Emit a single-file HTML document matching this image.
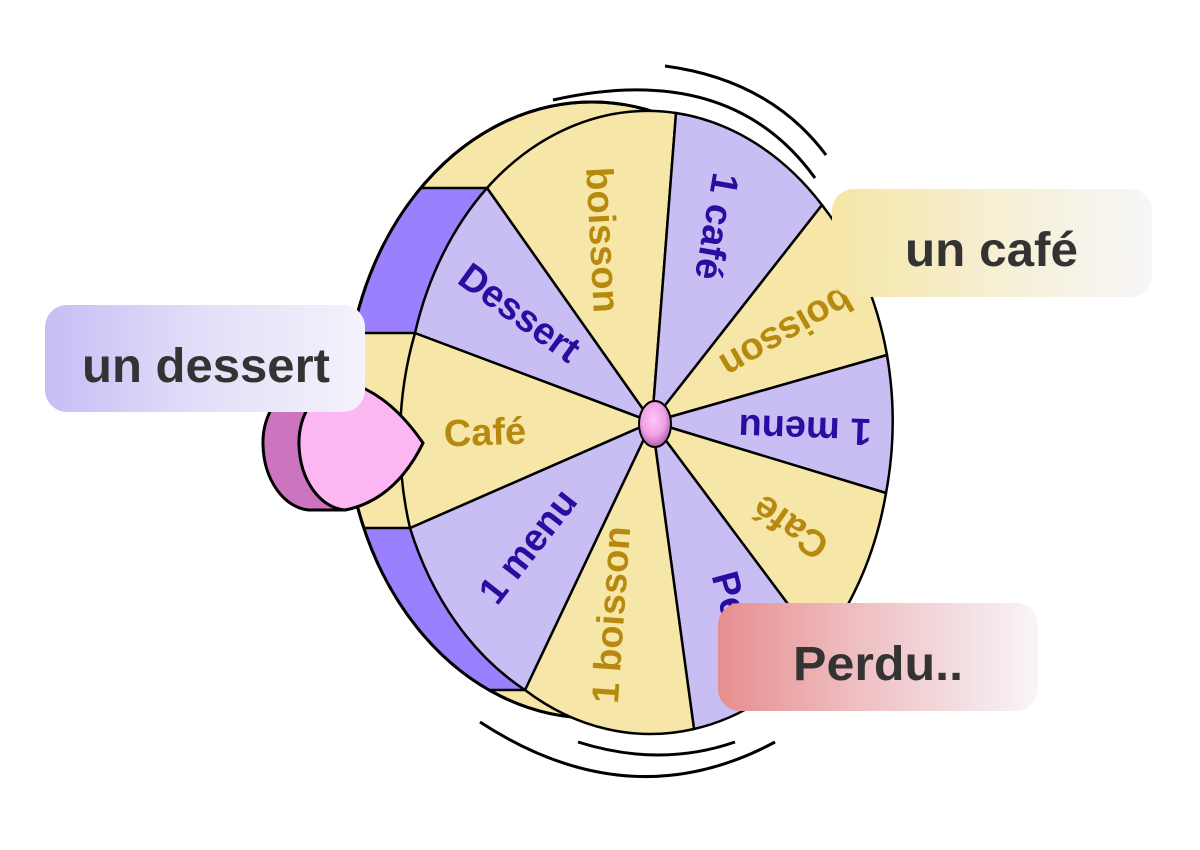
<!DOCTYPE html>
<html><head><meta charset="utf-8"><style>
html,body{margin:0;padding:0;background:#fff;width:1200px;height:850px;overflow:hidden}
svg{display:block}
</style></head><body>
<svg width="1200" height="850" viewBox="0 0 1200 850" xmlns="http://www.w3.org/2000/svg">
<defs>
<clipPath id="back"><ellipse cx="592" cy="410" rx="247" ry="308"/></clipPath>
<radialGradient id="hub" cx="45%" cy="40%" r="60%"><stop offset="0" stop-color="#fbc8f3"/><stop offset="0.6" stop-color="#f0a0e6"/><stop offset="1" stop-color="#b060a8"/></radialGradient>
<linearGradient id="g1" x1="0" x2="1"><stop offset="0" stop-color="#c6bdf5"/><stop offset="0.5" stop-color="#e4dff8"/><stop offset="1" stop-color="#f4f2fb"/></linearGradient>
<linearGradient id="g2" x1="0" x2="1"><stop offset="0" stop-color="#f5e6a6"/><stop offset="0.5" stop-color="#f6efd2"/><stop offset="1" stop-color="#f7f6f8"/></linearGradient>
<linearGradient id="g3" x1="0" x2="1"><stop offset="0" stop-color="#e58e8e"/><stop offset="0.45" stop-color="#efc0c3"/><stop offset="1" stop-color="#f7f5f9"/></linearGradient>
</defs>
<g fill="none" stroke="#000" stroke-width="3">
<path d="M665,66 Q770,80 826,155"/>
<path d="M553,100 Q730,60 815,178"/>
<path d="M480,722 Q630,820 775,742"/>
<path d="M578,742 Q660,768 735,742"/>
</g>
<ellipse cx="592" cy="410" rx="247" ry="308" fill="#f6e7a9" stroke="#000" stroke-width="3"/>
<g clip-path="url(#back)">
<rect x="330" y="188" width="160" height="145" fill="#9b80fd"/>
<rect x="330" y="528" width="200" height="162" fill="#9b80fd"/>
</g>
<g stroke="#000" stroke-width="2.5">
<line x1="421" y1="188" x2="490" y2="188"/>
<line x1="353" y1="333" x2="418" y2="333"/>
<line x1="364" y1="528" x2="412" y2="528"/>
<line x1="489" y1="690" x2="528" y2="690"/>
</g>
<ellipse cx="592" cy="410" rx="247" ry="308" fill="none" stroke="#000" stroke-width="3"/>
<g stroke="#000" stroke-width="2.5" stroke-linejoin="round">
<path d="M652,422 L487,188 A244 310 0 0 1 676,113Z" fill="#f6e7a9"/>
<path d="M652,422 L676,113 A244 310 0 0 1 822,205Z" fill="#c8bef4"/>
<path d="M652,422 L822,205 A244 310 0 0 1 887,355Z" fill="#f6e7a9"/>
<path d="M652,422 L887,355 A244 310 0 0 1 886,493Z" fill="#c8bef4"/>
<path d="M652,422 L886,493 A244 310 0 0 1 820,647Z" fill="#f6e7a9"/>
<path d="M652,422 L820,647 A244 310 0 0 1 694,729Z" fill="#c8bef4"/>
<path d="M652,422 L694,729 A244 310 0 0 1 525,690Z" fill="#f6e7a9"/>
<path d="M652,422 L525,690 A244 310 0 0 1 410,528Z" fill="#c8bef4"/>
<path d="M652,422 L410,528 A244 310 0 0 1 415,333Z" fill="#f6e7a9"/>
<path d="M652,422 L415,333 A244 310 0 0 1 487,188Z" fill="#c8bef4"/>
</g>
<g font-family="Liberation Sans, sans-serif" font-weight="bold" font-size="38" text-anchor="middle" dominant-baseline="middle">
<text transform="translate(600,240) rotate(87)" fill="#b8890f">boisson</text>
<text transform="translate(714,226) rotate(100)" fill="#2b0ca0">1 café</text>
<text transform="translate(785,330) rotate(150)" fill="#b8890f">boisson</text>
<text transform="translate(805,427) rotate(182)" fill="#2b0ca0">1 menu</text>
<text transform="translate(792,525) rotate(215)" fill="#b8890f">Café</text>
<text transform="translate(735,625) rotate(75)" fill="#2b0ca0">Perdu</text>
<text transform="translate(614,615) rotate(-86)" fill="#b8890f">1 boisson</text>
<text transform="translate(530,548) rotate(-52)" fill="#2b0ca0">1 menu</text>
<text transform="translate(485,435) rotate(-2)" fill="#b8890f">Café</text>
<text transform="translate(518,315) rotate(36)" fill="#2b0ca0">Dessert</text>
</g>
<ellipse cx="655" cy="424" rx="16" ry="23" fill="url(#hub)" stroke="#000" stroke-width="2"/>
<g stroke="#000" stroke-width="3" stroke-linejoin="round">
<path d="M387,443 Q354,395 314,383 C279,385 262,415 263,445 C264,480 284,508 309,510 L345,510 Q395,500 423,443Z" fill="#cc74c0"/>
<path d="M423,443 Q390,395 350,383 C315,385 298,415 299,445 C300,480 320,508 345,510 Q395,500 423,443Z" fill="#fcb6f2"/>
</g>
<g font-family="Liberation Sans, sans-serif" font-weight="bold" font-size="48" fill="#333">
<rect x="45" y="305" width="320" height="107" rx="22" fill="url(#g1)"/>
<text x="82" y="382" textLength="248" lengthAdjust="spacingAndGlyphs">un dessert</text>
<rect x="832" y="189" width="320" height="108" rx="22" fill="url(#g2)"/>
<text x="905" y="266" textLength="173" lengthAdjust="spacingAndGlyphs">un café</text>
<rect x="718" y="603" width="320" height="108" rx="22" fill="url(#g3)"/>
<text x="793" y="680" textLength="170" lengthAdjust="spacingAndGlyphs">Perdu..</text>
</g>
</svg>
</body></html>
